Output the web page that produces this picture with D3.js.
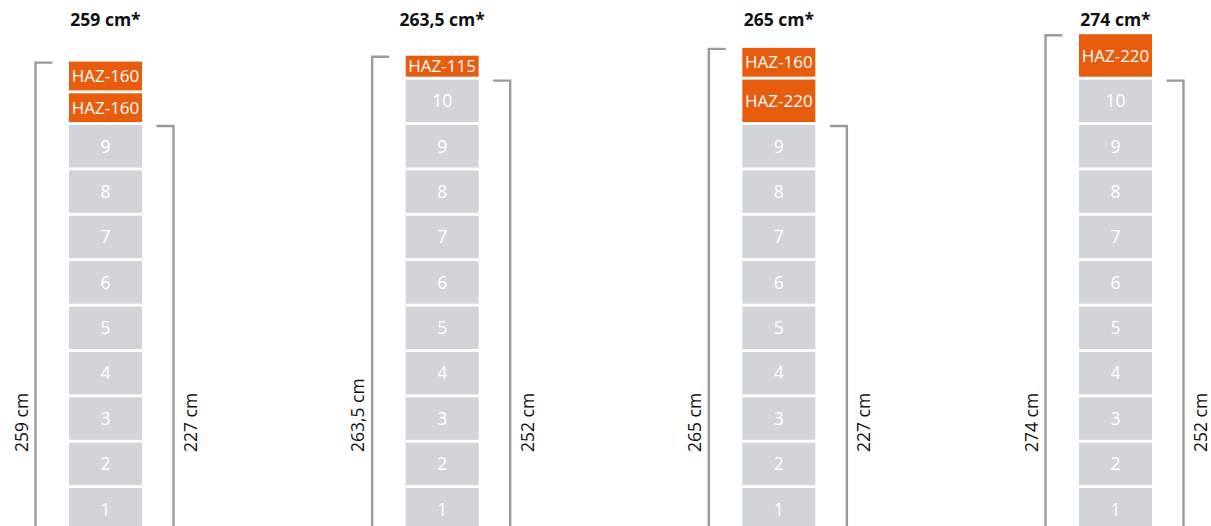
<!DOCTYPE html>
<html>
<head>
<meta charset="utf-8">
<script src="https://cdn.jsdelivr.net/npm/d3@7"></script>
<style>
  html, body { margin: 0; padding: 0; background: #fff; }
  svg { display: block; font-family: "Open Sans", "Noto Sans", sans-serif; }
</style>
</head>
<body>
<svg id="chart" width="1211" height="526"></svg>
<script>
// ---- data ----
const columns = ["A", "B", "C", "D"];
const totalHeights = [259, 263.5, 265, 274];          // cm, with top extension
const stackHeights = [227, 252, 227, 252];            // cm, base stack
const greyCounts = [9, 10, 9, 10];                    // numbered elements
const hazStacks = [                                   // top to bottom
  ["HAZ-160", "HAZ-160"],
  ["HAZ-115"],
  ["HAZ-160", "HAZ-220"],
  ["HAZ-220"]
];
const hazTypes = ["HAZ-115", "HAZ-160", "HAZ-220"];

// ---- styles / layout ----
const ORANGE = "#E85C0D";
const GREY = "#D1D5D9";
const BRACKET = "#9B9B9B";
const TEXT = "#111";
const fmt = v => String(v).replace(".", ",") + " cm";

const svg = d3.select("#chart");
const x = d3.scaleLinear().domain([0, columns.length - 1]).range([105.5, 1115.5]);
const blockW = 73;
const slotY = d3.scaleLinear().domain([1, 10]).range([488, 79.6]); // top of numbered element
const greyH = 42.5;
const gap = 2.9;
const hazH = d3.scaleOrdinal().domain(hazTypes).range([21, 28.8, 42.5]);
const labelStartY = 452;

columns.forEach((c, i) => {
  const g = svg.append("g");
  const cx = x(i);
  const left = cx - blockW / 2, right = cx + blockW / 2;

  // numbered grey elements
  const nums = d3.range(1, greyCounts[i] + 1);
  g.selectAll("rect.grey").data(nums).join("rect")
    .attr("class", "grey")
    .attr("x", left).attr("width", blockW)
    .attr("y", d => slotY(d)).attr("height", greyH)
    .attr("fill", GREY);
  g.selectAll("text.num").data(nums).join("text")
    .attr("class", "num")
    .attr("x", cx).attr("y", d => slotY(d) + greyH / 2)
    .attr("dy", "0.36em")
    .attr("text-anchor", "middle")
    .attr("fill", "#fff")
    .attr("font-size", 17.5)
    .text(d => d);

  // HAZ elements stacked above
  const greyTop = slotY(greyCounts[i]);
  let bottom = greyTop - gap;
  const hazRects = [];
  hazStacks[i].slice().reverse().forEach(h => {
    const hh = hazH(h);
    hazRects.push({ name: h, y: bottom - hh, h: hh });
    bottom = bottom - hh - gap;
  });
  g.selectAll("rect.haz").data(hazRects).join("rect")
    .attr("class", "haz")
    .attr("x", left).attr("width", blockW)
    .attr("y", d => d.y).attr("height", d => d.h)
    .attr("fill", ORANGE);
  g.selectAll("text.haz").data(hazRects).join("text")
    .attr("class", "haz")
    .attr("x", cx).attr("y", d => d.y + d.h / 2)
    .attr("dy", "0.36em")
    .attr("text-anchor", "middle")
    .attr("fill", "#fff")
    .attr("font-size", 17)
    .text(d => d.name);

  const stackTop = d3.min(hazRects, d => d.y);

  // title
  g.append("text")
    .attr("x", cx).attr("y", 26)
    .attr("text-anchor", "middle")
    .attr("font-weight", "bold")
    .attr("font-size", 17.5)
    .attr("fill", TEXT)
    .text(fmt(totalHeights[i]) + "*");

  // left bracket (total height)
  const lx = left - 33.5;
  g.append("path")
    .attr("d", `M${lx + 17},${stackTop + 1}H${lx}V545`)
    .attr("fill", "none").attr("stroke", BRACKET).attr("stroke-width", 2.4);
  g.append("text")
    .attr("transform", `translate(${lx - 8},${labelStartY}) rotate(-90)`)
    .attr("font-size", 17.5).attr("fill", TEXT)
    .text(fmt(totalHeights[i]));

  // right bracket (base stack height)
  const rx = right + 31.5;
  g.append("path")
    .attr("d", `M${rx - 17},${greyTop + 1}H${rx}V545`)
    .attr("fill", "none").attr("stroke", BRACKET).attr("stroke-width", 2.4);
  g.append("text")
    .attr("transform", `translate(${rx + 23.5},${labelStartY}) rotate(-90)`)
    .attr("font-size", 17.5).attr("fill", TEXT)
    .text(fmt(stackHeights[i]));
});
</script>
</body>
</html>
